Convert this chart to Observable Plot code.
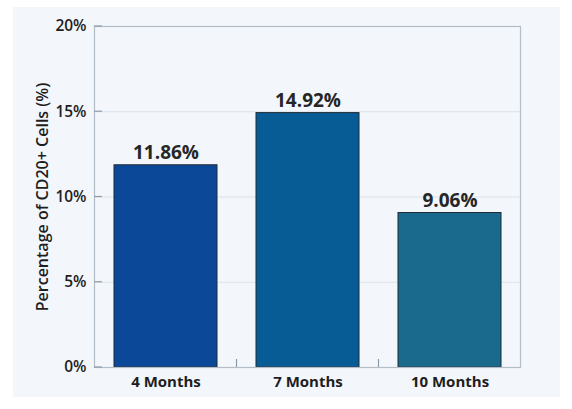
<!DOCTYPE html>
<html>
<head>
<meta charset="utf-8">
<script src="https://cdn.jsdelivr.net/npm/d3@7"></script>
<script src="https://cdn.jsdelivr.net/npm/@observablehq/plot@0.6"></script>
<style>
  html, body { margin: 0; padding: 0; background: #ffffff; }
  #wrap { position: relative; width: 572px; height: 409px; overflow: hidden; }
  #panel { position: absolute; left: 13px; top: 7px; width: 547px; height: 390px; background: #f3f6fa; }
  #chart { position: absolute; left: 0; top: 0; }
</style>
</head>
<body>
<div id="wrap"><div id="panel"></div><div id="chart"></div></div>
<script>
const categories = ["4 Months", "7 Months", "10 Months"];
const values = [11.86, 14.92, 9.06];
const barColors = ["#0b4898", "#075c95", "#1a6a8e"];
const yTicks = [0, 5, 10, 15, 20];
const yLabel = "Percentage of CD20+ Cells (%)";

const data = categories.map((c, i) => ({cat: c, val: values[i]}));

// inward ticks: short y ticks at left frame edge, short x ticks between bands
function innerTicks(index, scales, values_, dimensions) {
  const g = d3.create("svg:g");
  const x0 = dimensions.marginLeft;
  const yb = dimensions.height - dimensions.marginBottom;
  for (const t of yTicks) {
    const yy = scales.y(t);
    g.append("line").attr("x1", x0).attr("x2", x0 + 8).attr("y1", yy).attr("y2", yy)
      .attr("stroke", "#8d9cab").attr("stroke-width", 1.2);
  }
  for (let i = 1; i < categories.length; i++) {
    const xa = scales.x(categories[i - 1]) + scales.x.bandwidth();
    const xb = scales.x(categories[i]);
    const xm = (xa + xb) / 2;
    g.append("line").attr("x1", xm).attr("x2", xm).attr("y1", yb).attr("y2", yb - 8)
      .attr("stroke", "#8d9cab").attr("stroke-width", 1.2);
  }
  return g.node();
}

const chart = Plot.plot({
  width: 572,
  height: 409,
  marginLeft: 94,
  marginRight: 52,
  marginTop: 26,
  marginBottom: 42,
  style: {background: "transparent", fontFamily: "'Open Sans', sans-serif", color: "#222"},
  x: {domain: categories, paddingInner: 0.275, paddingOuter: 0.1375, label: null},
  y: {domain: [0, 20], label: null},
  color: {domain: categories, range: barColors},
  marks: [
    Plot.gridY(yTicks, {stroke: "#dde2e8", strokeOpacity: 1, strokeWidth: 1}),
    Plot.barY(data, {x: "cat", y: "val", fill: "cat", stroke: "#1e2a35", strokeWidth: 1}),
    Plot.frame({stroke: "#b2bdc8", strokeWidth: 1.2}),
    innerTicks,
    Plot.text(data, {x: "cat", y: "val", text: d => d.val.toFixed(2) + "%", lineAnchor: "bottom", dy: -6,
      fontSize: 19, fontWeight: 700, fill: "#262626"}),
    Plot.axisY(yTicks, {tickSize: 0, tickPadding: 8, tickFormat: d => d + "%", fontSize: 15.5, fontWeight: 600,
      fill: "#1e1e1e", label: null}),
    Plot.axisX({tickSize: 0, tickPadding: 9, fontSize: 15, fontWeight: 700, fill: "#1e1e1e", label: null}),
    Plot.text([yLabel], {frameAnchor: "left", text: d => d, rotate: -90, dx: -52, textAnchor: "middle",
      fontSize: 16, fontWeight: 600, fill: "#1e1e1e"})
  ]
});
document.getElementById("chart").appendChild(chart);
</script>
</body>
</html>
